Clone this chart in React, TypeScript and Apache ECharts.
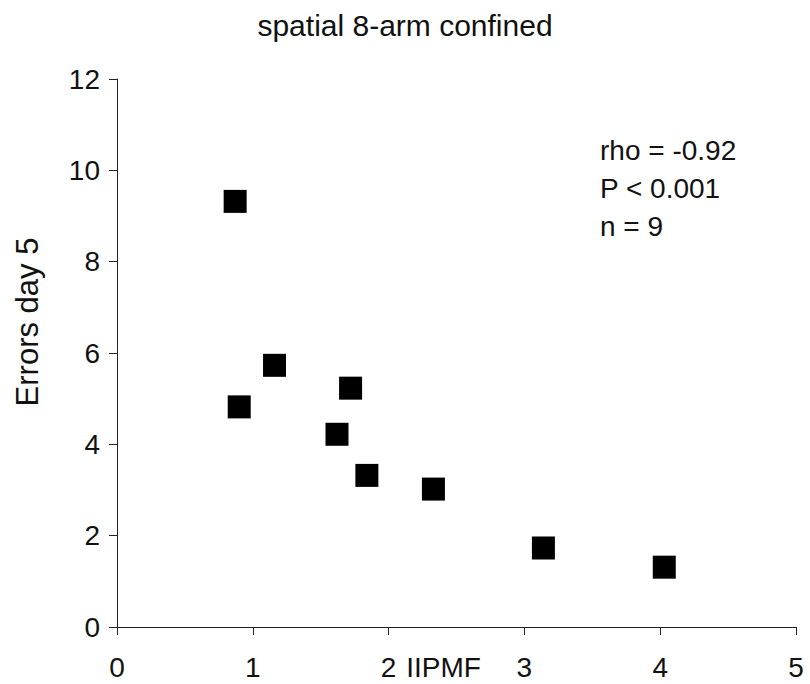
import React, { useEffect, useRef } from "react";
import * as echarts from "echarts";

const titleText = "spatial 8-arm confined";
const xAxisName = "IIPMF";
const yAxisName = "Errors day 5";
const statsLines = ["rho = -0.92", "P < 0.001", "n = 9"];

const iipmf = [0.87, 0.9, 1.16, 1.62, 1.72, 1.84, 2.33, 3.14, 4.03];
const errors = [9.32, 4.82, 5.73, 4.22, 5.23, 3.32, 3.02, 1.73, 1.31];

const FONT = "'Liberation Sans', Arial, Helvetica, sans-serif";

export default function App() {
  const ref = useRef<HTMLDivElement>(null);
  useEffect(() => {
    document.body.style.margin = "0";
    if (!ref.current) return;
    const chart = echarts.init(ref.current, undefined, { renderer: "svg", width: 810, height: 684 });
    const points = iipmf.map((x, i) => [x, errors[i]]);
    chart.setOption({
      animation: false,
      backgroundColor: "#ffffff",
      title: {
        text: titleText,
        left: "center",
        top: 5,
        textStyle: { fontFamily: FONT, fontSize: 30, fontWeight: "normal", color: "#111" },
      },
      grid: {
        left: 117,
        right: 14,
        top: 79,
        bottom: 57,
        containLabel: false,
        outerBoundsMode: "none",
      },
      xAxis: {
        type: "value",
        min: 0,
        max: 5,
        interval: 1,
        name: xAxisName,
        nameLocation: "middle",
        nameGap: 26,
        nameMoveOverlap: false,
        nameTextStyle: {
          fontFamily: FONT,
          fontSize: 28,
          color: "#111",
          padding: [0, 26, 0, 0],
          verticalAlign: "top",
        },
        axisLine: { show: true, lineStyle: { color: "#222", width: 1 } },
        axisTick: { show: true, inside: false, length: 8, lineStyle: { color: "#222" } },
        axisLabel: { fontFamily: FONT, fontSize: 28, color: "#111", margin: 26 },
        splitLine: { show: false },
      },
      yAxis: {
        type: "value",
        min: 0,
        max: 12,
        interval: 2,
        axisLine: { show: true, lineStyle: { color: "#222", width: 1 } },
        axisTick: { show: true, inside: false, length: 8, lineStyle: { color: "#222" } },
        axisLabel: { fontFamily: FONT, fontSize: 28, color: "#111", margin: 17 },
        splitLine: { show: false },
      },
      graphic: [
        {
          type: "text",
          x: 27,
          y: 322,
          rotation: Math.PI / 2,
          style: {
            text: yAxisName,
            fontFamily: FONT,
            fontSize: 31,
            fill: "#111",
            textAlign: "center",
            textVerticalAlign: "middle",
          },
        },
        ...statsLines.map((t, i) => ({
          type: "text",
          left: 600,
          top: 136 + i * 38,
          style: { text: t, fontFamily: FONT, fontSize: 28, fill: "#111" },
        })),
      ],
      series: [
        {
          type: "scatter",
          data: points,
          symbol: "rect",
          symbolSize: 23,
          itemStyle: { color: "#000", opacity: 1 },
        },
      ],
    });
    return () => chart.dispose();
  }, []);
  return <div ref={ref} style={{ width: 810, height: 684 }} />;
}
